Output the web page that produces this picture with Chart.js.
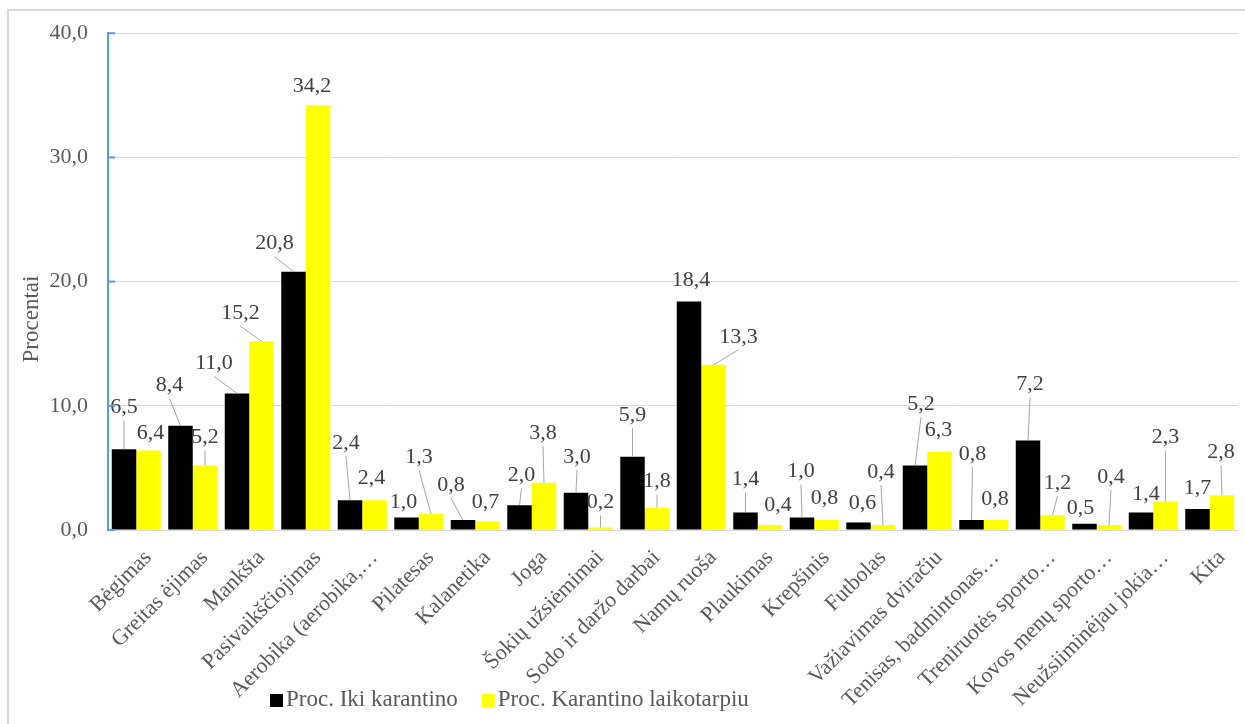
<!DOCTYPE html>
<html lang="lt">
<head>
<meta charset="utf-8">
<title>Fizinis aktyvumas</title>
<script src="https://cdn.jsdelivr.net/npm/chart.js@4.4.1/dist/chart.umd.min.js"></script>
<style>
  html, body { margin: 0; padding: 0; background: #fff; }
  #wrap { width: 1245px; height: 724px; position: relative; }
</style>
</head>
<body>
<div id="wrap"><canvas id="chart" width="1245" height="724"></canvas></div>
<script>
const categories = [
  'Bėgimas', 'Greitas ėjimas', 'Mankšta', 'Pasivaikščiojimas', 'Aerobika (aerobika,…',
  'Pilatesas', 'Kalanetika', 'Joga', 'Šokių užsiėmimai', 'Sodo ir daržo darbai',
  'Namų ruoša', 'Plaukimas', 'Krepšinis', 'Futbolas', 'Važiavimas dviračiu',
  'Tenisas, badmintonas…', 'Treniruotės sporto…', 'Kovos menų sporto…', 'Neužsiiminėjau jokia…', 'Kita'
];
const beforeQuarantine = [6.5, 8.4, 11.0, 20.8, 2.4, 1.0, 0.8, 2.0, 3.0, 5.9, 18.4, 1.4, 1.0, 0.6, 5.2, 0.8, 7.2, 0.5, 1.4, 1.7];
const duringQuarantine = [6.4, 5.2, 15.2, 34.2, 2.4, 1.3, 0.7, 3.8, 0.2, 1.8, 13.3, 0.4, 0.8, 0.4, 6.3, 0.8, 1.2, 0.4, 2.3, 2.8];
const yTicks = [0, 10, 20, 30, 40];
const seriesNames = ['Proc. Iki karantino', 'Proc. Karantino laikotarpiu'];

// label offsets from the bar top, in px (placed by hand in the original)
const labelShiftBefore = [
  [0, -42], [-11, -40], [-23, -30], [-19, -28], [-4, -57], [-3, -15], [-12, -35], [2, -30], [1, -36], [0, -42],
  [2, -21], [0, -33], [-1, -46], [4, -19], [6, -61], [1, -66], [2, -56], [-4, -16], [5, -18], [0, -21]
];
const labelShiftDuring = [
  [2, -17], [0, -28], [-21, -28], [-6, -19], [-3, -22], [-12, -57], [-2, -19], [-1, -50], [0, -25], [0, -26],
  [25, -28], [8, -20], [-2, -22], [-2, -53], [-1, -22], [-1, -21], [5, -32], [2, -48], [0, -64], [-1, -43]
];

const serif = '"Liberation Serif", "Times New Roman", serif';
const colors = ['#000000', '#FFFF00'];

function fmt(v) {
  return v.toFixed(1).replace('.', ',');
}

const framePlugin = {
  id: 'frame',
  beforeDraw(chart) {
    const ctx = chart.ctx;
    ctx.save();
    ctx.fillStyle = '#fff';
    ctx.fillRect(0, 0, chart.width, chart.height);
    ctx.strokeStyle = '#d9d9d9';
    ctx.lineWidth = 2;
    ctx.beginPath();
    ctx.moveTo(8, chart.height);
    ctx.lineTo(8, 10);
    ctx.lineTo(chart.width, 10);
    ctx.stroke();
    ctx.restore();
  },
  afterDraw(chart) {
    const ctx = chart.ctx;
    const y = chart.scales.y;
    const area = chart.chartArea;
    ctx.save();
    // small blue tick marks on the value axis
    ctx.strokeStyle = '#5B9BD5';
    ctx.lineWidth = 2;
    yTicks.forEach(t => {
      const py = y.getPixelForValue(t);
      ctx.beginPath();
      ctx.moveTo(area.left, py);
      ctx.lineTo(area.left + 7, py);
      ctx.stroke();
    });
    // axis title
    ctx.fillStyle = '#595959';
    ctx.font = '23px ' + serif;
    ctx.textAlign = 'center';
    ctx.textBaseline = 'middle';
    ctx.translate(32, 319);
    ctx.rotate(-Math.PI / 2);
    ctx.fillText('Procentai', 0, 0);
    ctx.restore();

    // legend
    ctx.save();
    ctx.font = '23px ' + serif;
    ctx.textBaseline = 'middle';
    ctx.textAlign = 'left';
    let x = 270;
    seriesNames.forEach((name, i) => {
      ctx.fillStyle = colors[i];
      ctx.fillRect(x, 694, 13, 13);
      ctx.fillStyle = '#595959';
      ctx.fillText(name, x + 16, 700);
      x += 16 + ctx.measureText(name).width + 24;
    });
    ctx.restore();
  }
};

const labelPlugin = {
  id: 'barLabels',
  afterDatasetsDraw(chart) {
    const ctx = chart.ctx;
    const shifts = [labelShiftBefore, labelShiftDuring];
    ctx.save();
    ctx.font = '22px ' + serif;
    ctx.textAlign = 'center';
    ctx.textBaseline = 'middle';
    chart.data.datasets.forEach((ds, i) => {
      const meta = chart.getDatasetMeta(i);
      meta.data.forEach((bar, j) => {
        const lx = bar.x + shifts[i][j][0];
        const ly = bar.y + shifts[i][j][1];
        if (bar.y - (ly + 13) > 9) {
          ctx.strokeStyle = '#a6a6a6';
          ctx.lineWidth = 1;
          ctx.beginPath();
          ctx.moveTo(lx, ly + 13);
          ctx.lineTo(bar.x, bar.y);
          ctx.stroke();
        }
        ctx.fillStyle = '#404040';
        ctx.fillText(fmt(ds.data[j]), lx, ly);
      });
    });
    ctx.restore();
  }
};

new Chart(document.getElementById('chart'), {
  type: 'bar',
  data: {
    labels: categories,
    datasets: [
      { label: seriesNames[0], data: beforeQuarantine, backgroundColor: colors[0], categoryPercentage: 0.867, barPercentage: 1.0 },
      { label: seriesNames[1], data: duringQuarantine, backgroundColor: colors[1], categoryPercentage: 0.867, barPercentage: 1.0 }
    ]
  },
  options: {
    responsive: false,
    animation: false,
    layout: { padding: { top: 33, left: 0, right: 7, bottom: 0 } },
    plugins: {
      legend: { display: false },
      tooltip: { enabled: false }
    },
    scales: {
      x: {
        grid: { display: false },
        border: { display: true, color: '#d9d9d9', width: 1 },
        ticks: {
          autoSkip: false,
          maxRotation: 45,
          minRotation: 45,
          labelOffset: 12,
          padding: 7,
          color: '#595959',
          font: { family: serif, size: 22 }
        },
        afterFit(scale) { scale.height = 194; }
      },
      y: {
        min: 0,
        max: 40,
        afterBuildTicks(scale) { scale.ticks = yTicks.map(v => ({ value: v })); },
        grid: { color: '#d9d9d9', lineWidth: 1, drawTicks: false },
        border: { display: true, color: '#5B9BD5', width: 2 },
        ticks: {
          padding: 20,
          color: '#595959',
          font: { family: serif, size: 22 },
          callback: v => fmt(v)
        },
        afterFit(scale) { scale.width = 108; }
      }
    }
  },
  plugins: [framePlugin, labelPlugin]
});
</script>
</body>
</html>
